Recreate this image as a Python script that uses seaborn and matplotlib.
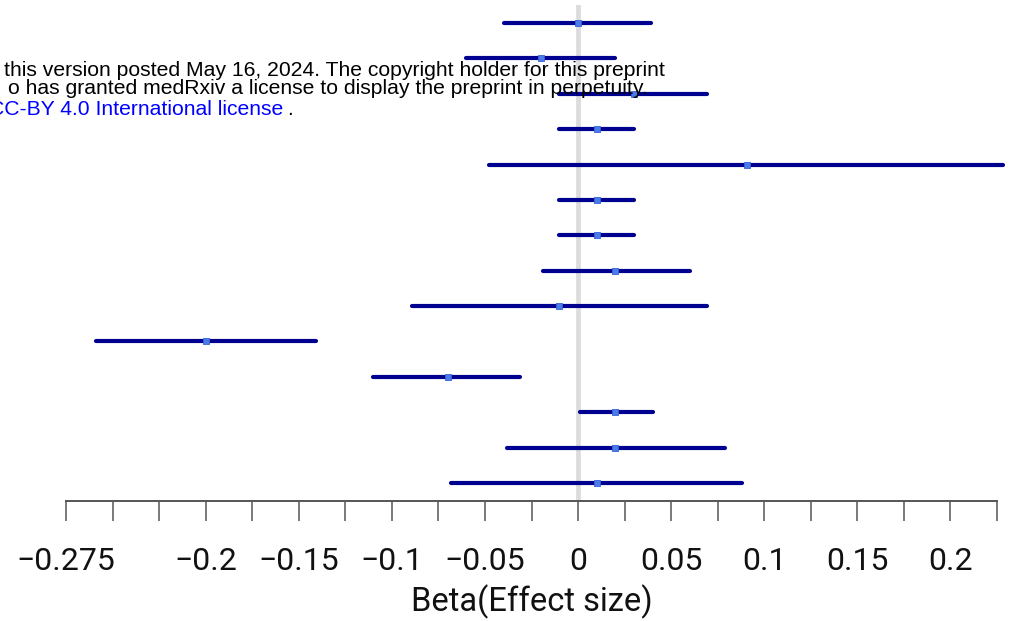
import matplotlib
matplotlib.use("Agg")
import matplotlib.pyplot as plt
import seaborn as sns
import numpy as np
import pandas as pd

# Effect estimates with 95% confidence bounds, one row per exposure (top to bottom)
row = list(range(1, 15))
beta = [0.0, -0.02, 0.03, 0.01, 0.091, 0.01, 0.01, 0.02, -0.01, -0.20, -0.07, 0.02, 0.02, 0.01]
lower = [-0.040, -0.060, -0.010, -0.010, -0.048, -0.010, -0.010, -0.019, -0.089,
         -0.259, -0.110, 0.001, -0.038, -0.068]
upper = [0.039, 0.020, 0.069, 0.030, 0.228, 0.030, 0.030, 0.060, 0.069,
         -0.141, -0.031, 0.040, 0.079, 0.088]

tick_values = [-0.275, -0.25, -0.225, -0.2, -0.175, -0.15, -0.125, -0.1, -0.075, -0.05,
               -0.025, 0.0, 0.025, 0.05, 0.075, 0.1, 0.125, 0.15, 0.175, 0.2, 0.225]
tick_labels = ["\u22120.275", "", "", "\u22120.2", "", "\u22120.15", "", "\u22120.1", "",
               "\u22120.05", "", "0", "", "0.05", "", "0.1", "", "0.15", "", "0.2", ""]

df = pd.DataFrame({"row": row, "beta": beta, "lower": lower, "upper": upper})

sns.set_theme(style="white")
plt.rcParams["font.family"] = ["Roboto", "DejaVu Sans"]

W, H = 1015, 621
fig = plt.figure(figsize=(W / 100, H / 100), dpi=100)
ax = fig.add_axes([66 / W, (H - 500.7) / H, (997 - 66) / W, (500.7 - 5.3) / H])

# reference line at zero
ax.axvline(0, color="#dcdcdc", lw=3.4, zorder=1)

# confidence intervals
ax.hlines(df["row"], df["lower"], df["upper"], color="#000090", lw=3.0,
          capstyle="round", zorder=2, clip_on=False)

# point estimates
sns.scatterplot(data=df, x="beta", y="row", marker="s", s=22, color="#4a7be8",
                edgecolor="#3562d6", linewidth=0.6, zorder=3, ax=ax, clip_on=False)

ax.set_xlim(-0.275, 0.225)
ax.set_ylim(14.5, 0.5)
ax.set_yticks([])
ax.set_ylabel("")

for side in ("top", "left", "right"):
    ax.spines[side].set_visible(False)
ax.spines["bottom"].set_color("#555555")
ax.spines["bottom"].set_linewidth(1.4)

ax.set_xticks(tick_values)
ax.set_xticklabels(tick_labels)
ax.tick_params(axis="x", bottom=True, direction="out", length=14.5, width=1.1,
               color="#555555", pad=19, labelsize=23, labelcolor="#111111")
ax.set_xlabel("Beta(Effect size)", fontsize=23.5, color="#111111", labelpad=6)

# preprint notice overlaid on the upper left
note_font = dict(family=["Liberation Sans", "DejaVu Sans"], fontsize=15.2, zorder=10)
fig.text(665 / W, 1 - 76 / H, "this version posted May 16, 2024. The copyright holder for this preprint",
         ha="right", va="baseline", color="black", **note_font)
fig.text(648 / W, 1 - 94 / H, "o has granted medRxiv a license to display the preprint in perpetuity.",
         ha="right", va="baseline", color="black", **note_font)
fig.text(283 / W, 1 - 115.5 / H, "CC-BY 4.0 International license",
         ha="right", va="baseline", color="#0000ff", **note_font)
fig.text(287 / W, 1 - 115.5 / H, ".", ha="left", va="baseline", color="black", **note_font)

fig.savefig("out.png", dpi=100, facecolor="white")
